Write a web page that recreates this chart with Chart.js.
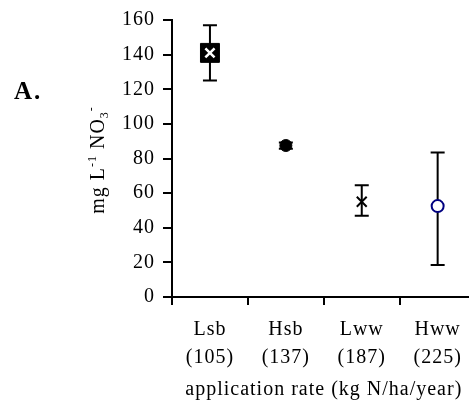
<!DOCTYPE html>
<html>
<head>
<meta charset="utf-8">
<script src="https://cdn.jsdelivr.net/npm/chart.js@4/dist/chart.umd.min.js"></script>
<style>
html,body{margin:0;padding:0;overflow:hidden;background:#fff;}
</style>
</head>
<body>
<canvas id="nitrateChart" width="490" height="414"></canvas>
<script>

// treatments and their N application rate
const treatments = ["Lsb","Hsb","Lww","Hww"];
const rates = ["(105)","(137)","(187)","(225)"];

// mean nitrate (mg/L NO3-) and error bar ends
const means = [141, 87.5, 55, 52.5];
const errLow = [125, 85.7, 47, 18.5];
const errHigh = [157, 89.3, 64.5, 83.5];

const yTicks = [0,20,40,60,80,100,120,140,160];

const serif = "'Liberation Serif','Times New Roman',serif";

const labels = treatments.map((t,i)=>[t, rates[i]]);

// the source font is a bit wider than Liberation Serif
function spacing(chart){
chart.ctx.letterSpacing = "1px";
}

const errorBars = {
id:"errorBars",
beforeLayout(chart){ spacing(chart); },
beforeDraw(chart){ spacing(chart); },
beforeDatasetsDraw(chart){
const ctx = chart.ctx;
const x = chart.scales.x;
const y = chart.scales.y;
ctx.save();
ctx.strokeStyle = "#000";
ctx.lineWidth = 2;
means.forEach((m,i)=>{
const px = x.getPixelForValue(i);
const lo = y.getPixelForValue(errLow[i]);
const hi = y.getPixelForValue(errHigh[i]);
ctx.beginPath();
ctx.moveTo(px,lo); ctx.lineTo(px,hi);
ctx.moveTo(px-7,lo); ctx.lineTo(px+7,lo);
ctx.moveTo(px-7,hi); ctx.lineTo(px+7,hi);
ctx.stroke();
});
ctx.restore();
},
afterDraw(chart){
const ctx = chart.ctx;
ctx.save();
ctx.fillStyle = "#000";
// panel letter
ctx.letterSpacing = "2px";
ctx.font = "bold 25px " + serif;
ctx.textBaseline = "alphabetic";
ctx.fillText("A.", 14, 99);
ctx.letterSpacing = "1px";

// y axis title with super/subscripts
const big = "20px " + serif;
const small = "12px " + serif;
const parts = [
{t:"mg L", f:big, dy:0},
{t:"-1", f:small, dy:-8},
{t:" NO", f:big, dy:0},
{t:"3", f:small, dy:4},
{t:"-", f:small, dy:-9}
];
let total = 0;
parts.forEach(p=>{ ctx.font = p.f; p.w = ctx.measureText(p.t).width; total += p.w; });
ctx.translate(96,160);
ctx.rotate(-Math.PI/2);
let cx = -total/2;
parts.forEach(p=>{
ctx.font = p.f;
ctx.fillText(p.t, cx, 8 + p.dy);
cx += p.w;
});
ctx.restore();
}
};

new Chart(document.getElementById("nitrateChart"),{
type:"line",
data:{
labels,
datasets:[
{
data:means,
order:1,
showLine:false,
pointStyle:["rect","circle","crossRot","circle"],
pointRadius:[13.4,6,7,6],
pointHoverRadius:[13.4,6,7,6],
pointBackgroundColor:["#000","#000","rgba(0,0,0,0)","#fff"],
pointBorderColor:["#000","#000","#000","#000080"],
pointBorderWidth:[1,1,2,2]
},
{
data:[means[0],null,null,null],
order:0,
showLine:false,
pointStyle:"crossRot",
pointRadius:6.5,
pointBorderColor:"#fff",
pointBorderWidth:2.5
}
]
},
options:{
responsive:false,
animation:false,
layout:{padding:{left:0,top:19,right:0,bottom:0}},
plugins:{legend:{display:false},tooltip:{enabled:false}},
scales:{
x:{
offset:true,
grid:{offset:true,drawOnChartArea:false,drawTicks:true,tickLength:8,color:"#000",lineWidth:2},
border:{display:true,color:"#000",width:2},
ticks:{color:"#000",font:{family:serif,size:20,lineHeight:1.4},padding:11,maxRotation:0},
title:{display:true,text:"application rate (kg N/ha/year)",color:"#000",font:{family:serif,size:20},padding:{top:0,bottom:12}},
afterFit(scale){
scale.height = 117;
scale.paddingLeft = 0;
scale.paddingRight = 0;
}
},
y:{
min:0,
max:160,
afterBuildTicks(scale){ scale.ticks = yTicks.map(v=>({value:v})); },
grid:{drawOnChartArea:false,drawTicks:true,tickLength:9,color:"#000",lineWidth:2},
border:{display:true,color:"#000",width:2},
ticks:{color:"#000",font:{family:serif,size:20},padding:8},
afterFit(scale){ scale.width = 172; }
}
}
},
plugins:[errorBars]
});

</script>
</body>
</html>
